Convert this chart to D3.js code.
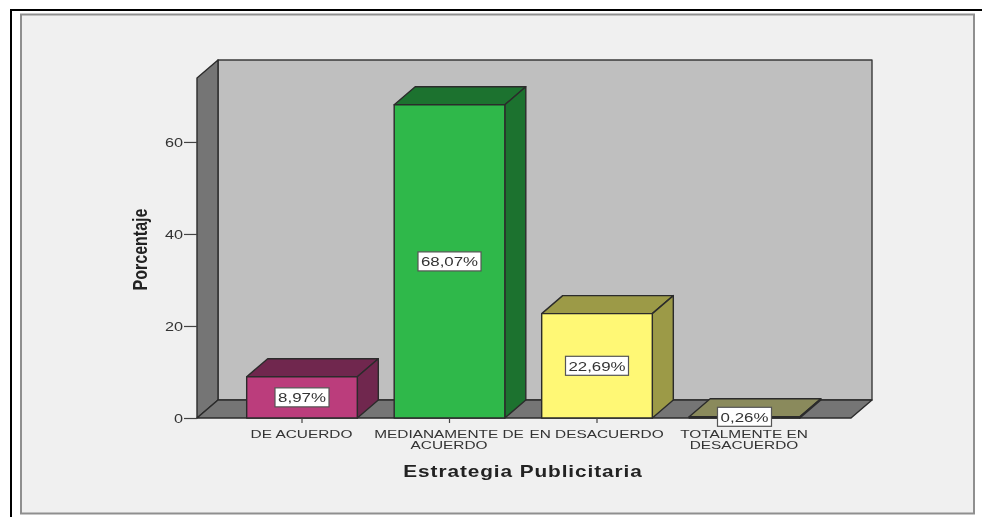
<!DOCTYPE html>
<html><head><meta charset="utf-8">
<script src="https://cdn.jsdelivr.net/npm/d3@7"></script>
<style>html,body{margin:0;background:#fff}svg{display:block;filter:blur(0.55px)}</style>
</head><body><svg id="c" width="982" height="517"></svg>
<script>
const categories=[["DE ACUERDO"],["MEDIANAMENTE DE","ACUERDO"],["EN DESACUERDO"],["TOTALMENTE EN","DESACUERDO"]];
const keys=["a","b","c","d"];
const values=[8.97,68.07,22.69,0.26];
const valueLabels=["8,97%","68,07%","22,69%","0,26%"];
const frontColors=["#bb3d7c","#2fb84a","#fff875","#fff875"];
const sideColors=["#70274e","#1c722f","#9c9a47","#8a8a5c"];
const yTicks=[0,20,40,60];
const xTitle="Estrategia Publicitaria", yTitle="Porcentaje";

const svg=d3.select("#c");
const font="Liberation Sans, Arial, sans-serif";
const depthX=21, depthY=18;
const y=d3.scaleLinear().domain([0,73.9]).range([418,78]);
const x=d3.scaleBand().domain(keys).range([228.25,818.25]).paddingInner(.25).paddingOuter(.125);
const floorL=197, floorR=851, base=y(0), yTop=y(73.9);
const poly=(pts,fill,stroke="#2b2b2b",w=1.4)=>svg.append("path").attr("d",d3.line()(pts)+"Z").attr("fill",fill).attr("stroke",stroke).attr("stroke-width",w).attr("stroke-linejoin","round");

// frame
svg.append("path").attr("d","M11,517V10H982").attr("fill","none").attr("stroke","#000").attr("stroke-width",2);
svg.append("rect").attr("x",21).attr("y",14.5).attr("width",953).attr("height",499).attr("fill","#f0f0f0").attr("stroke","#8f8f8f").attr("stroke-width",2);

// walls
poly([[floorL+depthX,yTop-depthY],[floorR+depthX,yTop-depthY],[floorR+depthX,base-depthY],[floorL+depthX,base-depthY]],"#bfbfbf","#3a3a3a");
poly([[floorL,yTop],[floorL+depthX,yTop-depthY],[floorL+depthX,base-depthY],[floorL,base]],"#757575");
poly([[floorL,base],[floorL+depthX,base-depthY],[floorR+depthX,base-depthY],[floorR,base]],"#757575");

// bars
values.forEach((v,i)=>{
  const k=keys[i], x0=x(k), x1=x0+x.bandwidth(), yt=y(v);
  poly([[x0,yt],[x1,yt],[x1+depthX,yt-depthY],[x0+depthX,yt-depthY]],sideColors[i]);
  poly([[x1,yt],[x1+depthX,yt-depthY],[x1+depthX,base-depthY],[x1,base]],sideColors[i]);
  poly([[x0,yt],[x1,yt],[x1,base],[x0,base]],frontColors[i]);
});

// axes
const gy=svg.append("g").attr("transform",`translate(${floorL},0)`).call(d3.axisLeft(y).tickValues(yTicks).tickSize(13).tickPadding(1).tickFormat(d3.format("d")));
gy.select(".domain").remove();
gy.selectAll("line").attr("stroke","#444").attr("stroke-width",1.2);
gy.selectAll("text").attr("font-family",font).attr("font-size",13).attr("fill","#333")
  .attr("x",0).attr("transform","translate(-14,0) scale(1.25,1)");

const gx=svg.append("g").attr("transform",`translate(0,${base})`).call(d3.axisBottom(x).tickSize(5).tickFormat(""));
gx.select(".domain").remove();
gx.selectAll("line").attr("stroke","#444").attr("stroke-width",1.2);
gx.selectAll(".tick").each(function(d,i){
  const tick=d3.select(this);
  tick.select("text").remove();
  categories[i].forEach((s,j)=>tick.append("text").attr("text-anchor","middle")
    .attr("font-family",font).attr("font-size",11.5).attr("fill","#333")
    .attr("transform",`translate(-0.5,${19.5+j*11.8}) scale(1.34,1)`).text(s));
});

// value labels
values.forEach((v,i)=>{
  const cx=x(keys[i])+x.bandwidth()/2, cy=i===3?y(v):(y(v)+base)/2;
  const g=svg.append("g").attr("transform",`translate(${cx},${cy})`);
  const w=i===1||i===2?63:54;
  g.append("rect").attr("x",-w/2).attr("y",-9.5).attr("width",w).attr("height",19).attr("fill","#fff").attr("stroke","#555").attr("stroke-width",1.2);
  g.append("text").attr("text-anchor","middle").attr("transform","translate(0,5) scale(1.25,1)").attr("font-family",font).attr("font-size",13.5).attr("fill","#333").text(valueLabels[i]);
});

// titles
svg.append("text").attr("transform","translate(523,477) scale(1.3,1)").attr("text-anchor","middle").attr("font-family",font).attr("font-weight","bold").attr("font-size",16).attr("letter-spacing",.7).attr("fill","#222").text(xTitle);
svg.append("text").attr("transform","translate(147,249.5) rotate(-90) scale(1.07,1.3)").attr("text-anchor","middle").attr("font-family",font).attr("font-weight","bold").attr("font-size",15).attr("fill","#222").text(yTitle);
</script></body></html>
